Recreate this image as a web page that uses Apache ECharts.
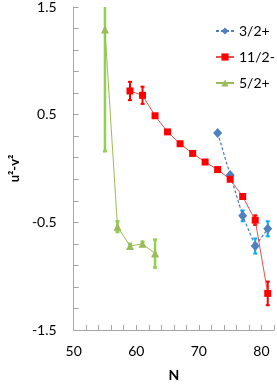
<!DOCTYPE html>
<html><head><meta charset="utf-8">
<script src="https://cdn.jsdelivr.net/npm/echarts@6/dist/echarts.min.js"></script>
<style>html,body{margin:0;padding:0;background:#fff}#c{width:277px;height:387px}</style>
</head><body><div id="c"></div>
<script>
// Data
const n32 = [73, 75, 77, 79, 81];
const v32 = [0.33, -0.06, -0.44, -0.72, -0.56];
const e32 = [0, 0, 0.05, 0.07, 0.07];

const n112 = [59, 61, 63, 65, 67, 69, 71, 73, 75, 77, 79, 81];
const v112 = [0.72, 0.68, 0.49, 0.34, 0.23, 0.14, 0.06, -0.01, -0.10, -0.26, -0.48, -1.16];
const e112 = [0.085, 0.08, 0, 0, 0, 0, 0, 0, 0, 0, 0.045, 0.11];

const n52 = [55, 57, 59, 61, 63];
const v52 = [1.29, -0.54, -0.72, -0.70, -0.79];
const e52 = [1.13, 0.05, 0.02, 0.02, 0.13];

const seriesNames = ['3/2+', '11/2-', '5/2+'];
const xTickLabels = [50, 60, 70, 80];
const yTickLabels = [-1.5, -0.5, 0.5, 1.5];

const FONT = 'Lato';
const pts = (xs, ys) => xs.map((x, i) => [x, ys[i]]);
const errs = (xs, ys, es) => xs.map((x, i) => [x, ys[i], es[i]]);

function errRender(color, width) {
  return function (params, api) {
    const n = api.value(0), v = api.value(1), e = api.value(2);
    if (!e) return;
    const cs = params.coordSys;
    const top = api.coord([n, v + e]);
    const bot = api.coord([n, v - e]);
    const x = top[0];
    const y1 = Math.max(cs.y, top[1]);
    const y2 = Math.min(cs.y + cs.height, bot[1]);
    const cap = 2;
    const st = { stroke: color, lineWidth: width };
    const ch = [{ type: 'line', shape: { x1: x, y1: y1, x2: x, y2: y2 }, style: st }];
    if (top[1] >= cs.y) ch.push({ type: 'line', shape: { x1: x - cap, y1: y1, x2: x + cap, y2: y1 }, style: st });
    if (bot[1] <= cs.y + cs.height) ch.push({ type: 'line', shape: { x1: x - cap, y1: y2, x2: x + cap, y2: y2 }, style: st });
    return { type: 'group', children: ch };
  };
}

const chart = echarts.init(document.getElementById('c'), null, { renderer: 'canvas' });
const axisCol = '#A6A6A6';
chart.setOption({
  animation: false,
  textStyle: { fontFamily: FONT },
  grid: { left: 62, right: 1, top: 6, bottom: 51, containLabel: false },
  legend: {
    data: seriesNames,
    orient: 'vertical',
    left: 210, top: 19,
    itemWidth: 18, itemHeight: 9, itemGap: 12,
    textStyle: { fontFamily: FONT, fontSize: 14, color: '#000' }
  },
  xAxis: {
    type: 'value', min: 50, max: 82, interval: 2,
    name: 'N', nameLocation: 'middle', nameGap: 38,
    nameTextStyle: { fontFamily: FONT, fontSize: 14, fontWeight: 'bold', color: '#000' },
    axisLine: { show: true, onZero: false, lineStyle: { color: axisCol } },
    axisTick: { show: true, inside: true, length: 5, lineStyle: { color: axisCol } },
    splitLine: { show: false },
    axisLabel: {
      margin: 14, fontFamily: FONT, fontSize: 14, color: '#000',
      formatter: v => xTickLabels.some(t => Math.abs(t - v) < 1e-6) ? String(v) : ''
    }
  },
  yAxis: {
    type: 'value', min: -1.5, max: 1.5, interval: 0.2,
    name: 'u²-v²', nameLocation: 'middle', nameGap: 46,
    nameTextStyle: { fontFamily: FONT, fontSize: 13, fontWeight: 'bold', color: '#000' },
    axisLine: { show: true, onZero: false, lineStyle: { color: axisCol } },
    axisTick: { show: true, inside: true, length: 5, lineStyle: { color: axisCol } },
    splitLine: { show: false },
    axisLabel: {
      margin: 17, fontFamily: FONT, fontSize: 14, color: '#000',
      formatter: v => {
        const t = yTickLabels.find(t => Math.abs(t - v) < 1e-6);
        return t === undefined ? '' : t.toFixed(1);
      }
    }
  },
  series: [
    {
      name: '3/2+', type: 'line', data: pts(n32, v32),
      symbol: 'diamond', symbolSize: [9, 10],
      itemStyle: { color: '#4F81BD' },
      lineStyle: { color: '#4F81BD', width: 1.25, type: [3, 2] },
      z: 2
    },
    {
      type: 'custom', name: 'err32', data: errs(n32, v32, e32), encode: { x: 0, y: 1 },
      renderItem: errRender('#00B0F0', 2), z: 2, silent: true
    },
    {
      name: '11/2-', type: 'line', data: pts(n112, v112),
      symbol: 'rect', symbolSize: 7,
      itemStyle: { color: '#FF0000' },
      lineStyle: { color: '#E85050', width: 1 },
      z: 3
    },
    {
      type: 'custom', name: 'err112', data: errs(n112, v112, e112), encode: { x: 0, y: 1 },
      renderItem: errRender('#FF0000', 2), z: 3, silent: true
    },
    {
      name: '5/2+', type: 'line', data: pts(n52, v52),
      symbol: 'triangle', symbolSize: 8,
      itemStyle: { color: '#9BBB59' },
      lineStyle: { color: '#9BBB59', width: 1 },
      z: 4
    },
    {
      type: 'custom', name: 'err52', data: errs(n52, v52, e52), encode: { x: 0, y: 1 },
      renderItem: errRender('#92D050', 2.5), z: 4, silent: true
    }
  ]
});
</script>
</body></html>
